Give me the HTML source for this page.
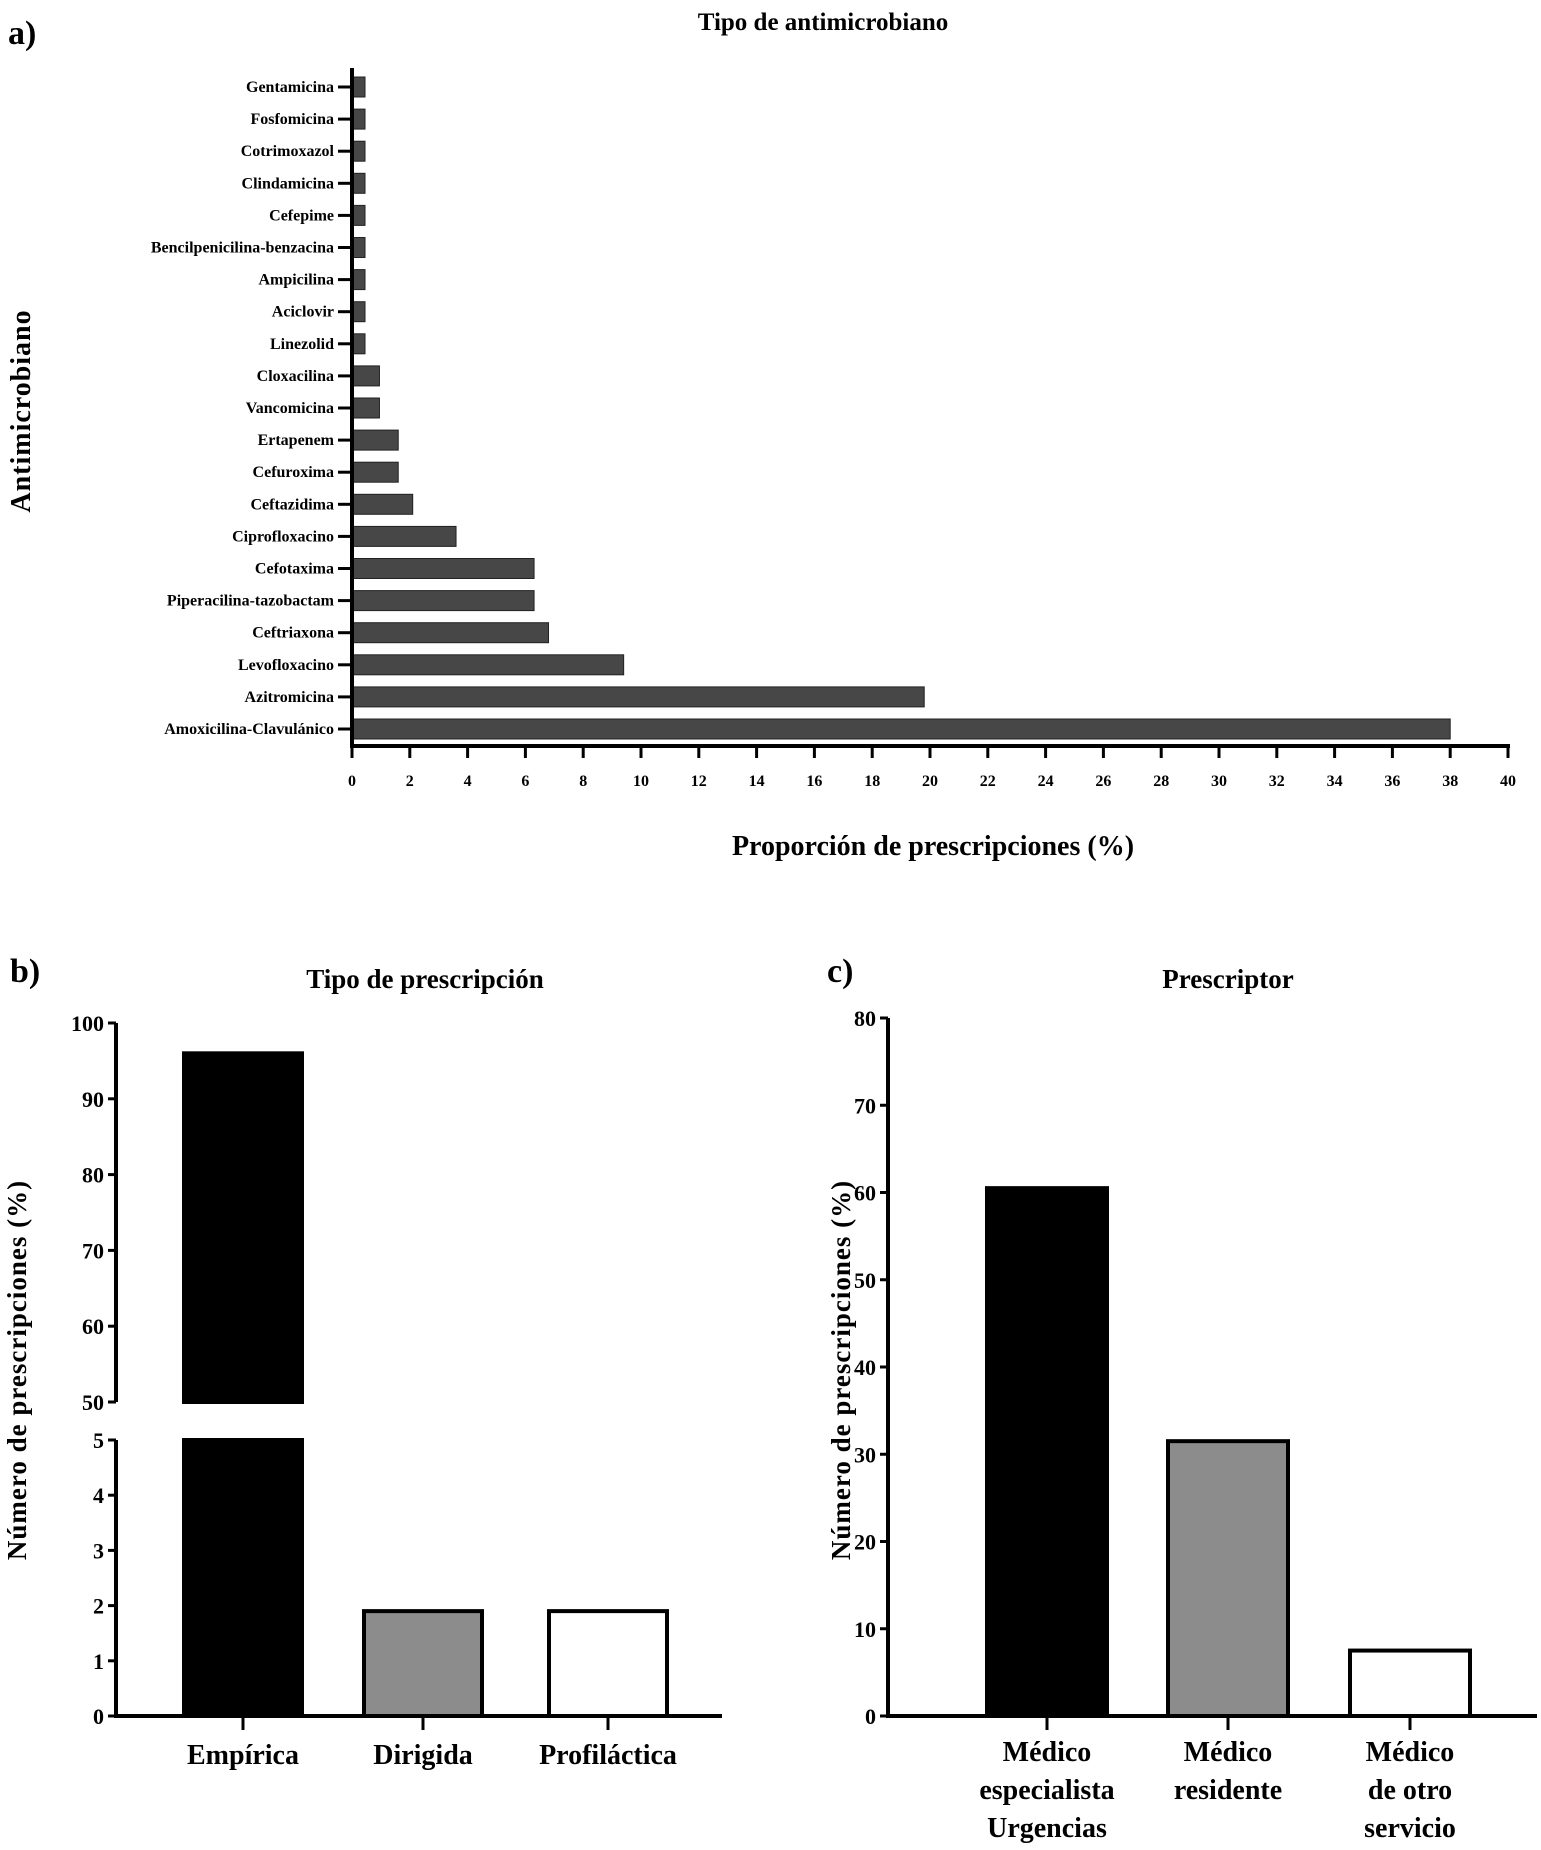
<!DOCTYPE html>
<html><head><meta charset="utf-8"><style>
html,body{margin:0;padding:0;background:#fff;}
svg{display:block;font-family:"Liberation Serif",serif;font-weight:bold;}
</style></head><body>
<svg id="chart" width="1541" height="1850" viewBox="0 0 1541 1850" xmlns="http://www.w3.org/2000/svg">
<text x="8" y="44" font-size="34">a)</text>
<text x="823" y="30" font-size="25" text-anchor="middle">Tipo de antimicrobiano</text>
<text x="933" y="855" font-size="28" text-anchor="middle">Proporción de prescripciones (%)</text>
<text transform="translate(30,411) rotate(-90)" font-size="28" text-anchor="middle" letter-spacing="1">Antimicrobiano</text>
<g id="ga"></g>

<text x="10" y="982" font-size="34">b)</text>
<text x="425" y="988" font-size="27" text-anchor="middle">Tipo de prescripción</text>
<text transform="translate(26,1370) rotate(-90)" font-size="27" text-anchor="middle" letter-spacing="1">Número de prescripciones (%)</text>
<g id="gb"></g>

<text x="827" y="982" font-size="34">c)</text>
<text x="1228" y="988" font-size="27" text-anchor="middle">Prescriptor</text>
<text transform="translate(850,1370) rotate(-90)" font-size="27" text-anchor="middle" letter-spacing="1">Número de prescripciones (%)</text>
<g id="gc"></g>
</svg>
<script>
const antiCategories = ["Gentamicina","Fosfomicina","Cotrimoxazol","Clindamicina","Cefepime","Bencilpenicilina-benzacina","Ampicilina","Aciclovir","Linezolid","Cloxacilina","Vancomicina","Ertapenem","Cefuroxima","Ceftazidima","Ciprofloxacino","Cefotaxima","Piperacilina-tazobactam","Ceftriaxona","Levofloxacino","Azitromicina","Amoxicilina-Clavulánico"];
const antiValues = [0.45,0.45,0.45,0.45,0.45,0.45,0.45,0.45,0.45,0.95,0.95,1.6,1.6,2.1,3.6,6.3,6.3,6.8,9.4,19.8,38];
const antiTicks = [0,2,4,6,8,10,12,14,16,18,20,22,24,26,28,30,32,34,36,38,40];
const tipoCategories = ["Empírica","Dirigida","Profiláctica"];
const tipoValues = [96,1.9,1.9];
const tipoColors = ["#000","#8c8c8c","#fff"];
const tipoUpperTicks = [50,60,70,80,90,100];
const tipoLowerTicks = [0,1,2,3,4,5];
const presCategories = [["Médico","especialista","Urgencias"],["Médico","residente"],["Médico","de otro","servicio"]];
const presValues = [60.5,31.5,7.5];
const presColors = ["#000","#8c8c8c","#fff"];
const presTicks = [0,10,20,30,40,50,60,70,80];

const NS="http://www.w3.org/2000/svg";
function mk(parent,tag,attrs,txt){const e=document.createElementNS(NS,tag);for(const k in attrs)e.setAttribute(k,attrs[k]);if(txt!==undefined)e.textContent=txt;parent.appendChild(e);return e;}

// Panel a
(function(){
  const g=document.getElementById('ga');
  const x0=352,x1=1508,yTop=68,yAxis=746,firstY=87,step=32.1;
  const xs=v=>x0+(v-0)/40*(x1-x0);
  const ys=i=>firstY+i*step;
  antiCategories.forEach((c,i)=>{
    const y=ys(i);
    const r=mk(g,'rect',{x:xs(0),y:y-10,width:xs(antiValues[i])-xs(0),height:20,fill:'#474747',stroke:'#222','stroke-width':1});
    
    
    mk(g,'line',{x1:x0-14,x2:x0,y1:y,y2:y,stroke:'#000','stroke-width':3});
    const t=mk(g,'text',{x:x0-18,y:y+5,'font-size':16,'text-anchor':'end'},c);
    
    
  });
  mk(g,'line',{x1:x0,x2:x0,y1:yTop,y2:yAxis+2,stroke:'#000','stroke-width':4});
  mk(g,'line',{x1:x0-2,x2:x1+2,y1:yAxis,y2:yAxis,stroke:'#000','stroke-width':4});
  antiTicks.forEach(v=>{
    mk(g,'line',{x1:xs(v),x2:xs(v),y1:yAxis,y2:yAxis+12,stroke:'#000','stroke-width':3});
    const t=mk(g,'text',{x:xs(v),y:yAxis+40,'font-size':16,'text-anchor':'middle'},String(v));
    
    
  });
})();

// Panel b (broken axis)
(function(){
  const g=document.getElementById('gb');
  const ax=116,xEnd=722;
  const upTop=1023,upBot=1402,loTop=1440,loBot=1716;
  const yu=v=>upBot-(v-50)/50*(upBot-upTop);
  const yl=v=>loBot-v/5*(loBot-loTop);
  const centers=[243,423,608],bw=118;
  tipoCategories.forEach((c,i)=>{
    const v=tipoValues[i],cx=centers[i];
    if(v>5){
      const r1=mk(g,'rect',{x:cx-bw/2,y:yu(Math.min(v,100)),width:bw,height:upBot-yu(Math.min(v,100)),fill:tipoColors[i],stroke:'#000','stroke-width':4});
      
      
      const r2=mk(g,'rect',{x:cx-bw/2,y:loTop,width:bw,height:loBot-loTop,fill:tipoColors[i],stroke:'#000','stroke-width':4});
      
      
    } else {
      const r=mk(g,'rect',{x:cx-bw/2,y:yl(v),width:bw,height:loBot-yl(v),fill:tipoColors[i],stroke:'#000','stroke-width':4});
      
      
    }
    mk(g,'line',{x1:cx,x2:cx,y1:loBot,y2:loBot+14,stroke:'#000','stroke-width':3});
    const t=mk(g,'text',{x:cx,y:1764,'font-size':28,'text-anchor':'middle'},c);
    
    
  });
  mk(g,'line',{x1:ax,x2:ax,y1:upTop,y2:upBot,stroke:'#000','stroke-width':4});
  mk(g,'line',{x1:ax,x2:ax,y1:loTop,y2:loBot,stroke:'#000','stroke-width':4});
  mk(g,'line',{x1:ax-2,x2:xEnd,y1:loBot,y2:loBot,stroke:'#000','stroke-width':4});
  tipoUpperTicks.forEach(v=>{
    mk(g,'line',{x1:ax-8,x2:ax,y1:yu(v),y2:yu(v),stroke:'#000','stroke-width':3});
    const t=mk(g,'text',{x:ax-12,y:yu(v)+8,'font-size':22,'text-anchor':'end'},String(v));
    
    
  });
  tipoLowerTicks.forEach(v=>{
    mk(g,'line',{x1:ax-8,x2:ax,y1:yl(v),y2:yl(v),stroke:'#000','stroke-width':3});
    const t=mk(g,'text',{x:ax-12,y:yl(v)+8,'font-size':22,'text-anchor':'end'},String(v));
    
    
  });
})();

// Panel c
(function(){
  const g=document.getElementById('gc');
  const ax=888,xEnd=1537,yTop=1018,yBot=1716;
  const ys=v=>yBot-v/80*(yBot-yTop);
  const centers=[1047,1228,1410],bw=120;
  presCategories.forEach((lines,i)=>{
    const v=presValues[i],cx=centers[i];
    const r=mk(g,'rect',{x:cx-bw/2,y:ys(v),width:bw,height:yBot-ys(v),fill:presColors[i],stroke:'#000','stroke-width':4});
    
    
    mk(g,'line',{x1:cx,x2:cx,y1:yBot,y2:yBot+14,stroke:'#000','stroke-width':3});
    lines.forEach((l,j)=>{
      const t=mk(g,'text',{x:cx,y:1761+j*38,'font-size':28,'text-anchor':'middle'},l);
      
      
    });
  });
  mk(g,'line',{x1:ax,x2:ax,y1:yTop,y2:yBot,stroke:'#000','stroke-width':4});
  mk(g,'line',{x1:ax-2,x2:xEnd,y1:yBot,y2:yBot,stroke:'#000','stroke-width':4});
  presTicks.forEach(v=>{
    mk(g,'line',{x1:ax-8,x2:ax,y1:ys(v),y2:ys(v),stroke:'#000','stroke-width':3});
    const t=mk(g,'text',{x:ax-12,y:ys(v)+8,'font-size':22,'text-anchor':'end'},String(v));
    
    
  });
})();
</script>
</body></html>
